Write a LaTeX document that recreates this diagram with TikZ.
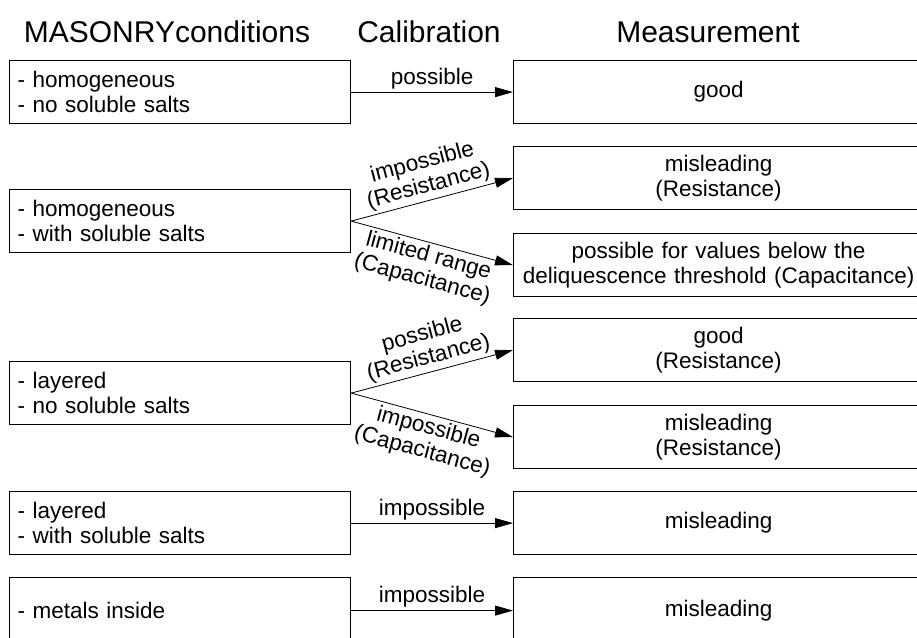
\documentclass[tikz,border=0pt]{standalone}
\usepackage{fontspec}
\setmainfont{Liberation Sans}
\usetikzlibrary{arrows.meta}
\begin{document}
\begin{tikzpicture}[x=1pt,y=-1pt,
  every node/.style={font=\fontsize{22.5}{25.5}\selectfont},
  titlefont/.style={font=\fontsize{30}{34}\selectfont, anchor=base},
  lbox/.style={draw, line width=1.2pt, anchor=north west, minimum width=341pt, minimum height=63pt, text width=325pt, inner xsep=8pt, align=left},
  rbox/.style={draw, line width=1.2pt, anchor=north west, minimum width=410pt, minimum height=63pt, text width=400pt, align=center},
  arr/.style={line width=0.8pt, -{Triangle[length=18pt,width=10pt]}},
  lab/.style={midway, align=center, inner sep=3pt, font=\fontsize{22.5}{24}\selectfont}
]
\useasboundingbox (0,0) rectangle (917,637);
% titles
\node[titlefont] (t1) at (167,42) {MASONRYconditions};
\node[titlefont] (t2) at (429,42) {Calibration};
\node[titlefont] (t3) at (708,42) {Measurement};
% left boxes
\node[lbox] (l1) at (9,60) {- homogeneous\\- no soluble salts};
\node[lbox] (l2) at (9,189) {- homogeneous\\- with soluble salts};
\node[lbox] (l3) at (9,361) {- layered\\- no soluble salts};
\node[lbox] (l4) at (9,491) {- layered\\- with soluble salts};
\node[lbox, minimum height=66pt] (l5) at (9,577) {- metals inside};
% right boxes
\node[rbox] (r1) at (513,60) {good};
\node[rbox] (r2a) at (513,146) {misleading\\(Resistance)};
\node[rbox] (r2b) at (513,233) {possible for values below the\\deliquescence threshold (Capacitance)};
\node[rbox] (r3a) at (513,318) {good\\(Resistance)};
\node[rbox] (r3b) at (513,405) {misleading\\(Resistance)};
\node[rbox] (r4) at (513,491) {misleading};
\node[rbox, minimum height=66pt] (r5) at (513,577) {misleading};
% arrows
\draw[arr] (l1.east) -- node[lab, above] {possible} (r1.west);
\draw[arr] (l2.east) -- node[lab, above, sloped] {impossible\\(Resistance)} (r2a.west);
\draw[arr] (l2.east) -- node[lab, below, sloped] {limited range\\(Capacitance)} (r2b.west);
\draw[arr] (l3.east) -- node[lab, above, sloped] {possible\\(Resistance)} (r3a.west);
\draw[arr] (l3.east) -- node[lab, below, sloped] {impossible\\(Capacitance)} (r3b.west);
\draw[arr] (l4.east) -- node[lab, above] {impossible} (r4.west);
\draw[arr] (l5.east) -- node[lab, above] {impossible} (r5.west);
\end{tikzpicture}
\end{document}
